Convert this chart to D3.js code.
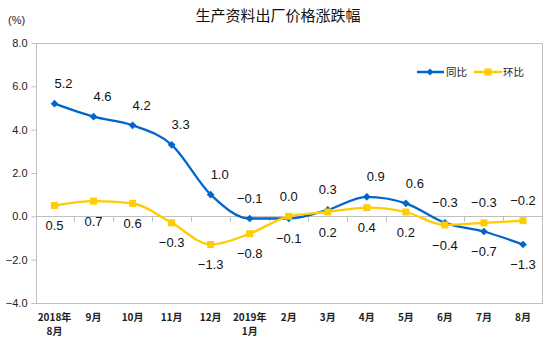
<!DOCTYPE html>
<html><head><meta charset="utf-8">
<script src="https://cdn.jsdelivr.net/npm/d3@7"></script>
<style>
html,body{margin:0;padding:0;background:#fff;}
svg{display:block;}
</style></head>
<body>
<svg id="c" width="552" height="345"></svg>
<script>
const categories = ["2018年\n8月","9月","10月","11月","12月","2019年\n1月","2月","3月","4月","5月","6月","7月","8月"];
const yoy = [5.2,4.6,4.2,3.3,1.0,-0.1,-0.1,0.3,0.9,0.6,-0.3,-0.7,-1.3];
const mom = [0.5,0.7,0.6,-0.3,-1.3,-0.8,0.0,0.2,0.4,0.2,-0.4,-0.3,-0.2];
const yTicks = [-4,-2,0,2,4,6,8];
const seriesNames = ["同比","环比"];

const svg = d3.select("#c");
const L = 36, R = 542, T = 43, B = 303;
const x = d3.scaleBand().domain(categories.map((d,i)=>i)).range([35, 542.5]);
const y = d3.scaleLinear().domain([-4,8]).range([B, T]);
const cx = i => x(i) + x.bandwidth()/2;
const font = "'Liberation Sans', Arial, 'Noto Sans CJK SC', sans-serif";
const cjk = "'Noto Sans CJK SC', 'Liberation Sans', sans-serif";

// title
svg.append("text").attr("x", 278).attr("y", 21).attr("text-anchor","middle")
  .attr("font-family", cjk).attr("font-size", 15).attr("fill","#111")
  .text("生产资料出厂价格涨跌幅");
svg.append("text").attr("x", 8).attr("y", 24)
  .attr("font-family", font).attr("font-size", 11).attr("fill","#222").text("(%)");

// frame
svg.append("rect").attr("x", L+0.5).attr("y", T+0.5).attr("width", R-L).attr("height", B-T)
  .attr("fill","none").attr("stroke","#bfbfbf");

// y axis ticks and labels
const yAxis = d3.axisLeft(y).tickValues(yTicks).tickSize(5).tickFormat(d3.format(".1f"));
const ya = svg.append("g").attr("transform", `translate(${L+0.5},0)`).call(yAxis);
ya.select(".domain").remove();
ya.selectAll(".tick line").attr("stroke","#bfbfbf");
ya.selectAll(".tick text").attr("font-family", font).attr("font-size", 11).attr("fill","#222")
  .attr("x", -9);

// zero line with category ticks
const y0 = Math.round(y(0)) + 0.5;
svg.append("line").attr("x1", L).attr("x2", R).attr("y1", y0).attr("y2", y0).attr("stroke","#bfbfbf");
svg.append("g").selectAll("line").data(categories.slice(1).map((d,i)=>i+1)).join("line")
  .attr("x1", i => Math.round(x(i))+0.5).attr("x2", i => Math.round(x(i))+0.5)
  .attr("y1", y0).attr("y2", y0+5).attr("stroke","#bfbfbf");

// x labels
const xl = svg.append("g");
categories.forEach((c,i) => {
  const lines = c.split("\n");
  lines.forEach((ln,k) => {
    xl.append("text").attr("x", cx(i)).attr("y", 321 + k*14).attr("text-anchor","middle")
      .attr("font-family", cjk).attr("font-size", 10).attr("font-weight","bold").attr("fill","#222")
      .text(ln);
  });
});

const colors = ["#0066cc", "#ffcc00"];
const line = d3.line().x((d,i)=>cx(i)).y(d=>y(d)).curve(d3.curveMonotoneX);
[yoy, mom].forEach((s, si) => {
  svg.append("path").datum(s).attr("d", line).attr("fill","none")
    .attr("stroke", colors[si]).attr("stroke-width", 2.3).attr("stroke-linejoin","round");
});
// markers
svg.append("g").selectAll("path").data(yoy).join("path")
  .attr("transform", (d,i)=>`translate(${cx(i)},${y(d)})`)
  .attr("d", d3.symbol(d3.symbolDiamond2, 38)).attr("fill", colors[0]);
svg.append("g").selectAll("rect").data(mom).join("rect")
  .attr("x", (d,i)=>cx(i)-3.5).attr("y", d=>y(d)-3.5).attr("width",7).attr("height",7)
  .attr("fill", colors[1]);

// data labels: higher value above, lower value below
const lab = svg.append("g").attr("font-family", font).attr("font-size", 13).attr("fill","#111");
categories.forEach((c,i) => {
  const a = yoy[i], b = mom[i];
  const upIsYoy = a > b;
  const up = upIsYoy ? a : b, dn = upIsYoy ? b : a;
  const upSeries = upIsYoy ? yoy : mom;
  // shift upper label right where the line drops steeply to avoid overlap
  const dx = (i < categories.length-1 && up > 0 && upSeries[i] - upSeries[i+1] > 0.3) ? 9 : 0;
  lab.append("text").attr("x", cx(i)+dx).attr("y", y(up)-20).attr("dy","0.35em")
    .attr("text-anchor","middle").text(d3.format(".1f")(up));
  lab.append("text").attr("x", cx(i)).attr("y", y(dn)+20).attr("dy","0.35em")
    .attr("text-anchor","middle").text(d3.format(".1f")(dn));
});

// legend
const lg = svg.append("g");
lg.append("line").attr("x1",417).attr("x2",444).attr("y1",72).attr("y2",72).attr("stroke",colors[0]).attr("stroke-width",2.5);
lg.append("path").attr("transform","translate(430,72)").attr("d", d3.symbol(d3.symbolDiamond2, 30)).attr("fill",colors[0]);
lg.append("text").attr("x",446).attr("y",72).attr("dy","0.35em").attr("font-family",cjk).attr("font-size",10.5).attr("fill","#222").text(seriesNames[0]);
lg.append("line").attr("x1",474).attr("x2",502).attr("y1",72).attr("y2",72).attr("stroke",colors[1]).attr("stroke-width",2.5);
lg.append("rect").attr("x",484.5).attr("y",68.5).attr("width",7).attr("height",7).attr("fill",colors[1]);
lg.append("text").attr("x",503).attr("y",72).attr("dy","0.35em").attr("font-family",cjk).attr("font-size",10.5).attr("fill","#222").text(seriesNames[1]);
</script>
</body></html>
